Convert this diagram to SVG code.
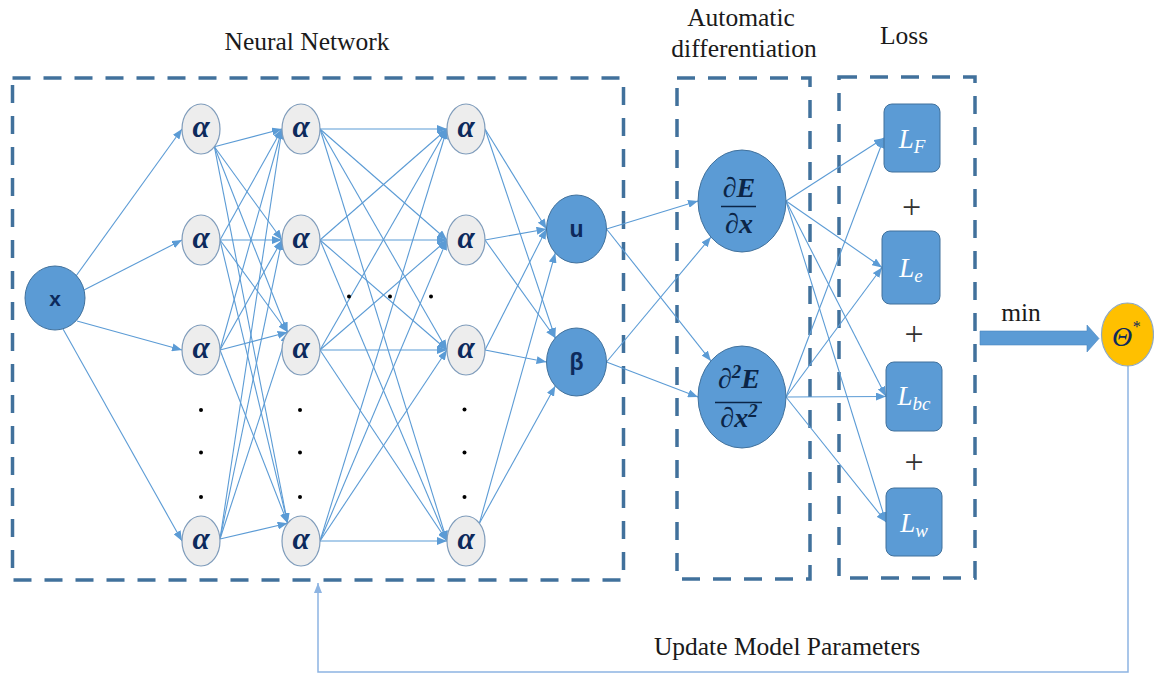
<svg xmlns="http://www.w3.org/2000/svg" width="1154" height="675" viewBox="0 0 1154 675">
  <defs>
    <style>
      .frame { fill: none; stroke: #41719C; stroke-width: 3.5; stroke-dasharray: 18 13; }
      .title { font-family: "Liberation Serif", "Times New Roman", serif; font-size: 25.5px; fill: #1a1a1a; text-anchor: middle; }
      .edge line { stroke: #5B9BD5; stroke-width: 1.1; marker-end: url(#arr); }
      .hid { fill: #EDEDED; stroke: #7F9CBB; stroke-width: 1.2; }
      .alpha { font-family: "Liberation Serif", "DejaVu Serif", serif; font-style: italic; font-weight: bold; font-size: 31px; fill: #0D2A5C; text-anchor: middle; }
      .blue { fill: #5B9BD5; stroke: #41719C; stroke-width: 1; }
      .sans { font-family: "Liberation Sans", Arial, sans-serif; font-weight: bold; font-size: 23px; fill: #0D2A5C; text-anchor: middle; }
      .math { font-family: "Liberation Serif", "DejaVu Serif", serif; font-style: italic; font-weight: bold; font-size: 28px; fill: #0B2547; text-anchor: middle; }
      .loss { font-family: "Liberation Serif", "DejaVu Serif", serif; font-style: italic; font-size: 27px; fill: #FFFFFF; text-anchor: middle; }
      .plus { font-family: "Liberation Serif", serif; font-size: 34px; fill: #333333; text-anchor: middle; }
      .dot { fill: #000000; }
    </style>
    <marker id="arr" viewBox="0 0 10 8" refX="10" refY="4" markerWidth="10" markerHeight="8" markerUnits="userSpaceOnUse" orient="auto">
      <path d="M0,0 L10,4 L0,8 z" fill="#5B9BD5"/>
    </marker>
    <marker id="arrLight" viewBox="0 0 10 8" refX="10" refY="4" markerWidth="10" markerHeight="8" markerUnits="userSpaceOnUse" orient="auto">
      <path d="M0,0 L10,4 L0,8 z" fill="#8DB4E2"/>
    </marker>
  </defs>

  <rect width="1154" height="675" fill="#FFFFFF"/>

  <!-- section titles -->
  <text class="title" x="307" y="50">Neural Network</text>
  <text class="title" x="741" y="26">Automatic</text>
  <text class="title" x="744" y="57">differentiation</text>
  <text class="title" x="904" y="44">Loss</text>

  <!-- dashed section frames -->
  <g id="frames">
    <rect class="frame" x="12.5" y="78" width="611" height="502"/>
    <rect class="frame" x="677" y="78" width="133" height="501"/>
    <rect class="frame" x="839" y="77" width="136" height="501"/>
  </g>

  <g id="connectors" class="edge">
    <!-- input to first hidden layer -->
    <line x1="76" y1="276" x2="182" y2="129"/>
    <line x1="84" y1="290" x2="182" y2="240"/>
    <line x1="77" y1="321" x2="182" y2="350"/>
    <line x1="63" y1="329" x2="182" y2="541"/>
    <!-- hidden layer 1 to hidden layer 2 -->
    <line x1="214.4" y1="146.7" x2="282" y2="129"/>
    <line x1="214.4" y1="146.7" x2="282" y2="240"/>
    <line x1="214.4" y1="146.7" x2="287.6" y2="332.3"/>
    <line x1="214.4" y1="146.7" x2="287.6" y2="523.3"/>
    <line x1="220" y1="240" x2="282" y2="129"/>
    <line x1="220" y1="240" x2="282" y2="240"/>
    <line x1="220" y1="240" x2="287.6" y2="332.3"/>
    <line x1="220" y1="240" x2="287.6" y2="523.3"/>
    <line x1="220" y1="350" x2="282" y2="129"/>
    <line x1="220" y1="350" x2="282" y2="240"/>
    <line x1="220" y1="350" x2="287.6" y2="332.3"/>
    <line x1="220" y1="350" x2="287.6" y2="523.3"/>
    <line x1="220" y1="539" x2="282" y2="129"/>
    <line x1="220" y1="539" x2="282" y2="240"/>
    <line x1="220" y1="539" x2="287.6" y2="332.3"/>
    <line x1="220" y1="539" x2="287.6" y2="523.3"/>
    <!-- hidden layer 2 to hidden layer 3 -->
    <line x1="320" y1="129" x2="447" y2="129"/>
    <line x1="320" y1="129" x2="447" y2="240"/>
    <line x1="320" y1="129" x2="447" y2="350"/>
    <line x1="320" y1="129" x2="447" y2="541"/>
    <line x1="320" y1="240" x2="447" y2="129"/>
    <line x1="320" y1="240" x2="447" y2="240"/>
    <line x1="320" y1="240" x2="447" y2="350"/>
    <line x1="320" y1="240" x2="447" y2="541"/>
    <line x1="320" y1="350" x2="447" y2="129"/>
    <line x1="320" y1="350" x2="447" y2="240"/>
    <line x1="320" y1="350" x2="447" y2="350"/>
    <line x1="320" y1="350" x2="447" y2="541"/>
    <line x1="320" y1="541" x2="447" y2="129"/>
    <line x1="320" y1="541" x2="447" y2="240"/>
    <line x1="320" y1="541" x2="447" y2="350"/>
    <line x1="320" y1="541" x2="447" y2="541"/>
    <!-- hidden layer 3 to outputs -->
    <line x1="485" y1="129" x2="546.5" y2="229"/>
    <line x1="485" y1="129" x2="555.3" y2="338"/>
    <line x1="485" y1="240" x2="546.5" y2="229"/>
    <line x1="485" y1="240" x2="555.3" y2="338"/>
    <line x1="485" y1="350" x2="546.5" y2="229"/>
    <line x1="485" y1="350" x2="546.5" y2="362"/>
    <line x1="479.4" y1="523.3" x2="555.3" y2="253"/>
    <line x1="479.4" y1="523.3" x2="555.3" y2="386"/>
    <!-- outputs to derivatives -->
    <line x1="606.5" y1="229" x2="698" y2="201"/>
    <line x1="606.5" y1="229" x2="710.9" y2="360.9"/>
    <line x1="606.5" y1="362" x2="710.9" y2="237.1"/>
    <line x1="606.5" y1="362" x2="698" y2="397"/>
    <!-- derivatives to loss terms -->
    <line x1="786" y1="201" x2="884" y2="138"/>
    <line x1="786" y1="201" x2="882" y2="267.5"/>
    <line x1="786" y1="201" x2="886" y2="396.5"/>
    <line x1="786" y1="201" x2="886" y2="522"/>
    <line x1="786" y1="397" x2="884" y2="138"/>
    <line x1="786" y1="397" x2="882" y2="267.5"/>
    <line x1="786" y1="397" x2="886" y2="396.5"/>
    <line x1="786" y1="397" x2="886" y2="522"/>
  </g>

  <!-- feedback path -->
  <g id="feedback">
    <polyline points="1128,366 1128,672 318,672 318,583" fill="none" stroke="#8DB4E2" stroke-width="1.5" marker-end="url(#arrLight)"/>
    <text class="title" x="787" y="655">Update Model Parameters</text>
  </g>

  <!-- input node -->
  <g id="node-x">
    <ellipse class="blue" cx="55" cy="298" rx="30" ry="32"/>
    <text class="sans" x="55" y="306" style="font-size:21px">x</text>
  </g>

  <!-- hidden layer 1 -->
  <g id="h1-1"><ellipse class="hid" cx="201" cy="129" rx="19" ry="25"/><text class="alpha" x="201" y="137">α</text></g>
  <g id="h1-2"><ellipse class="hid" cx="201" cy="240" rx="19" ry="25"/><text class="alpha" x="201" y="248">α</text></g>
  <g id="h1-3"><ellipse class="hid" cx="201" cy="350" rx="19" ry="25"/><text class="alpha" x="201" y="358">α</text></g>
  <g id="h1-4"><ellipse class="hid" cx="201" cy="541" rx="19" ry="25"/><text class="alpha" x="201" y="549">α</text></g>

  <!-- hidden layer 2 -->
  <g id="h2-1"><ellipse class="hid" cx="301" cy="129" rx="19" ry="25"/><text class="alpha" x="301" y="137">α</text></g>
  <g id="h2-2"><ellipse class="hid" cx="301" cy="240" rx="19" ry="25"/><text class="alpha" x="301" y="248">α</text></g>
  <g id="h2-3"><ellipse class="hid" cx="301" cy="350" rx="19" ry="25"/><text class="alpha" x="301" y="358">α</text></g>
  <g id="h2-4"><ellipse class="hid" cx="301" cy="541" rx="19" ry="25"/><text class="alpha" x="301" y="549">α</text></g>

  <!-- hidden layer 3 -->
  <g id="h3-1"><ellipse class="hid" cx="466" cy="129" rx="19" ry="25"/><text class="alpha" x="466" y="137">α</text></g>
  <g id="h3-2"><ellipse class="hid" cx="466" cy="240" rx="19" ry="25"/><text class="alpha" x="466" y="248">α</text></g>
  <g id="h3-3"><ellipse class="hid" cx="466" cy="350" rx="19" ry="25"/><text class="alpha" x="466" y="358">α</text></g>
  <g id="h3-4"><ellipse class="hid" cx="466" cy="541" rx="19" ry="25"/><text class="alpha" x="466" y="549">α</text></g>

  <!-- ellipsis dots -->
  <g id="ellipsis">
    <circle class="dot" cx="201" cy="410" r="2"/>
    <circle class="dot" cx="201" cy="452.5" r="2"/>
    <circle class="dot" cx="201" cy="497" r="2"/>
    <circle class="dot" cx="300" cy="410" r="2"/>
    <circle class="dot" cx="300" cy="452.5" r="2"/>
    <circle class="dot" cx="300" cy="497" r="2"/>
    <circle class="dot" cx="464.5" cy="409.5" r="2"/>
    <circle class="dot" cx="464.5" cy="452.5" r="2"/>
    <circle class="dot" cx="464.5" cy="497" r="2"/>
    <circle class="dot" cx="349" cy="296.5" r="2"/>
    <circle class="dot" cx="390" cy="296.5" r="2"/>
    <circle class="dot" cx="431" cy="296.5" r="2"/>
  </g>

  <!-- network outputs -->
  <g id="node-u">
    <ellipse class="blue" cx="576.5" cy="229" rx="30" ry="34"/>
    <text class="sans" x="576.5" y="237">u</text>
  </g>
  <g id="node-beta">
    <ellipse class="blue" cx="576.5" cy="362" rx="30" ry="34"/>
    <text class="sans" x="576.5" y="370">β</text>
  </g>

  <!-- derivative nodes -->
  <g id="node-dE">
    <ellipse class="blue" cx="742" cy="201" rx="44" ry="51"/>
    <text class="math" x="739" y="197">∂E</text>
    <line x1="721" y1="206.5" x2="756" y2="206.5" stroke="#0B2547" stroke-width="1.7"/>
    <text class="math" x="739" y="233">∂x</text>
  </g>
  <g id="node-d2E">
    <ellipse class="blue" cx="742" cy="397" rx="44" ry="51"/>
    <text class="math" x="739" y="388">∂<tspan font-size="19" dy="-10">2</tspan><tspan dy="10">E</tspan></text>
    <line x1="715" y1="402.5" x2="762" y2="402.5" stroke="#0B2547" stroke-width="1.7"/>
    <text class="math" x="739" y="427">∂x<tspan font-size="19" dy="-10">2</tspan></text>
  </g>

  <!-- loss terms -->
  <g id="loss-F">
    <rect class="blue" x="884" y="104" width="56" height="68" rx="8"/>
    <text class="loss" x="912" y="148">L<tspan font-size="19" dy="5">F</tspan></text>
  </g>
  <g id="loss-e">
    <rect class="blue" x="882" y="231" width="58" height="73" rx="8"/>
    <text class="loss" x="911" y="277">L<tspan font-size="19" dy="5">e</tspan></text>
  </g>
  <g id="loss-bc">
    <rect class="blue" x="886" y="362" width="56" height="69" rx="8"/>
    <text class="loss" x="914" y="405">L<tspan font-size="19" dy="5">bc</tspan></text>
  </g>
  <g id="loss-w">
    <rect class="blue" x="886" y="488" width="56" height="68" rx="8"/>
    <text class="loss" x="914" y="532">L<tspan font-size="19" dy="5">w</tspan></text>
  </g>
  <text class="plus" x="911.5" y="218">+</text>
  <text class="plus" x="914" y="344.5">+</text>
  <text class="plus" x="914" y="472.5">+</text>

  <!-- minimisation arrow -->
  <g id="min-arrow">
    <polygon points="980,331 1087,331 1087,325 1099,338.5 1087,352 1087,345 980,345" fill="#5B9BD5" stroke="#4A86C0" stroke-width="0.6"/>
    <text class="title" x="1021" y="321">min</text>
  </g>

  <!-- optimal parameters -->
  <g id="node-theta">
    <ellipse cx="1127.5" cy="334.5" rx="26" ry="31.5" fill="#FFC000" stroke="#8FA9C4" stroke-width="1.2"/>
    <text x="1126" y="346" font-family="Liberation Serif, DejaVu Serif, serif" font-style="italic" font-size="28" fill="#0D2A5C" text-anchor="middle">Θ<tspan font-size="16" dy="-14">*</tspan></text>
  </g>
</svg>
